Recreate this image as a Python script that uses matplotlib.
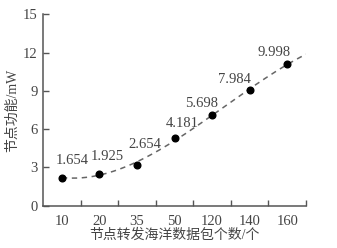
import numpy as np
import matplotlib
matplotlib.use('Agg')
import matplotlib.pyplot as plt

FONT = ['Liberation Serif', 'Noto Sans CJK SC', 'DejaVu Sans']
plt.rcParams['font.family'] = FONT

# category labels on x axis
categories = ['10', '20', '35', '50', '120', '140', '160']
# measured point heights (mW)
power = [2.19, 2.50, 3.19, 5.30, 7.08, 9.07, 11.10]
# annotation texts shown above points
labels = ['1.654', '1.925', '2.654', '4.181', '5.698', '7.984', '9.998']

TEXT = '#444444'
LINE = '#555555'

fig = plt.figure(figsize=(3.37, 2.48), dpi=100)
ax = fig.add_axes([0.128, 0.171, 0.780, 0.771])

xs = np.arange(len(categories))

# dashed trend curve (cubic fit through points)
coef = np.polyfit(xs, power, 3)
xc = np.linspace(0, len(categories) - 0.5, 200)
ax.plot(xc, np.polyval(coef, xc), linestyle=(0, (3.5, 3)), color='#666666', lw=1.1, zorder=2)

ax.plot(xs, power, 'o', color='black', markersize=4.8, zorder=3)

offsets = [(10, 17), (8, 17), (8, 20), (8, 15), (-11, 12), (-15, 10), (-13, 12)]
for x, y, t, (dx, dy) in zip(xs, power, labels, offsets):
    ax.annotate(t, (x, y), xytext=(dx * 0.72, dy * 0.72), textcoords='offset points',
                ha='center', va='center', fontsize=10.5, color=TEXT)

ax.set_xlim(-0.5, len(categories) - 0.5)
ax.set_ylim(0, 15)
ax.set_yticks([0, 3, 6, 9, 12, 15])
ax.set_xticks(xs)
ax.set_xticklabels(categories)
ax.set_xticks(np.arange(0.5, len(categories), 1.0), minor=True)
ax.tick_params(axis='x', which='major', length=0, pad=7, labelsize=10.5, labelcolor=TEXT)
ax.tick_params(axis='x', which='minor', direction='in', length=4, width=1, color=LINE)
ax.tick_params(axis='y', direction='in', length=4, width=1, color=LINE, labelsize=10.5, labelcolor=TEXT, pad=4)

for s in ['top', 'right']:
    ax.spines[s].set_visible(False)
for s in ['left', 'bottom']:
    ax.spines[s].set_color(LINE)
    ax.spines[s].set_linewidth(1.1)

ax.set_xlabel('节点转发海洋数据包个数/个', fontsize=10, color=TEXT, labelpad=0)
ax.set_ylabel('节点功能/mW', fontsize=10, color=TEXT, labelpad=3)

fig.savefig('out.png', dpi=100)
